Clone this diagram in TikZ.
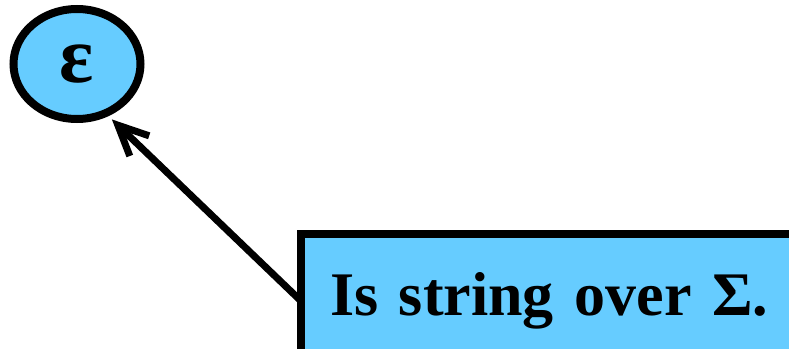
\documentclass[tikz,border=0pt]{standalone}
\usepackage{fontspec}
\setmainfont{Liberation Serif}
\usepackage{tikz}
\usetikzlibrary{arrows.meta,shapes.geometric}
\definecolor{skyfill}{HTML}{66CCFF}

\begin{document}
\begin{tikzpicture}[x=1pt,y=-1pt,>={Straight Barb[length=30pt,width=28pt]},
                    line cap=round]
  \tikzstyle{sym}=[ellipse,draw=black,fill=skyfill,line width=8pt,outer sep=0pt,
                   minimum width=127pt,minimum height=110pt,
                   font=\fontsize{80}{88}\selectfont\bfseries]
  \tikzstyle{note}=[rectangle,draw=black,fill=skyfill,line width=8pt,outer sep=0pt,
                    anchor=north west,inner xsep=29pt,inner ysep=39pt,
                    text width=491pt,align=left,text height=42pt,text depth=14pt,
                    font=\fontsize{62}{70}\selectfont\bfseries]

  \useasboundingbox (0,0) rectangle (789,348);
  \clip (0,0) rectangle (789,348);

  \node[sym] (eps) at (77,64) {ε};
  \node[note] (box) at (301,234) {Is string over Σ.};

  \draw[->,line width=7pt,shorten >=9pt] (box.west) -- (eps.-60);

\end{tikzpicture}
\end{document}
